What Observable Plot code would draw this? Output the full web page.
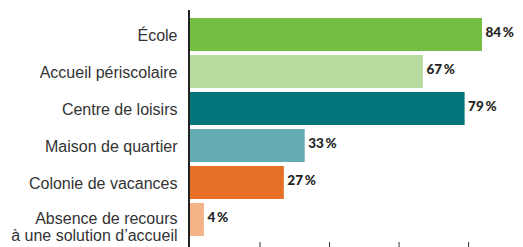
<!DOCTYPE html>
<html>
<head>
<meta charset="utf-8">
<script src="https://cdn.jsdelivr.net/npm/d3@7"></script>
<script src="https://cdn.jsdelivr.net/npm/@observablehq/plot@0.6"></script>
<style>
  html, body { margin: 0; padding: 0; background: #fff; }
  #chart svg { display: block; }
</style>
</head>
<body>
<div id="chart"></div>
<script>
const categories = [
  "École",
  "Accueil périscolaire",
  "Centre de loisirs",
  "Maison de quartier",
  "Colonie de vacances",
  "Absence de recours\nà une solution d’accueil"
];
const values = [84, 67, 79, 33, 27, 4];
const colors = ["#76bd43", "#b8dba0", "#00757a", "#63adb2", "#e87026", "#f3b386"];
const xTicks = [20, 40, 60, 80];

const rows = categories.map((c, i) => ({cat: c, value: values[i], color: colors[i], i}));
const single = rows.filter(d => !d.cat.includes("\n"));
const multi = rows.filter(d => d.cat.includes("\n"));

const chart = Plot.plot({
  width: 523,
  height: 247,
  marginLeft: 190,
  marginRight: 0,
  marginTop: 12,
  marginBottom: 5,
  style: {background: "#fff", overflow: "visible"},
  x: {domain: [0, 95.8], label: null},
  y: {domain: categories, padding: 0.1, axis: null, label: null},
  marks: [
    Plot.barX(rows, {y: "cat", x: "value", fill: "color"}),
    Plot.axisX({ticks: xTicks, tickSize: 5, tickFormat: () => "", label: null, stroke: "#333"}),
    Plot.ruleX([0], {stroke: "#222", strokeWidth: 2, dx: -1.5, insetTop: -2, insetBottom: -6}),
    Plot.text(single, {
      y: "cat", text: "cat", frameAnchor: "left", textAnchor: "end", dx: -13, dy: 1,
      fontSize: 16, fontFamily: "Liberation Sans, Arial, sans-serif", fill: "#333"
    }),
    Plot.text(multi, {
      y: "cat", text: "cat", frameAnchor: "left", textAnchor: "end", dx: -13, dy: 7,
      lineHeight: 1.05,
      fontSize: 16, fontFamily: "Liberation Sans, Arial, sans-serif", fill: "#333"
    }),
    Plot.text(rows, {
      y: "cat", x: "value", text: d => d.value + "\u2009%", textAnchor: "start", dx: 3, dy: -2.5,
      fontSize: 13.5, fontWeight: 900, fontFamily: "Lato, sans-serif", fill: "#222",
      letterSpacing: "-0.5px"
    })
  ]
});
document.getElementById("chart").append(chart);
</script>
</body>
</html>
